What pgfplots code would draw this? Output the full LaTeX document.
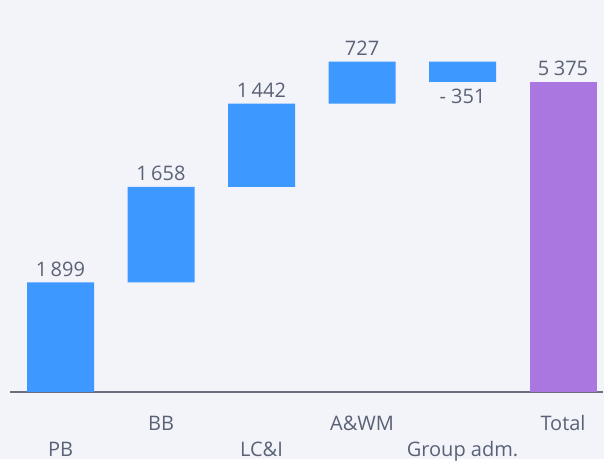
\documentclass[border=0pt]{standalone}
\usepackage{pgfplots}
\pgfplotsset{compat=1.18}
\usepackage{fontspec}
\setmainfont{Open Sans}
\definecolor{bg}{HTML}{F3F4FA}
\definecolor{barblue}{HTML}{3D98FF}
\definecolor{barpurple}{HTML}{A977DF}
\definecolor{txt}{HTML}{5A6275}
\definecolor{axiscol}{HTML}{6A6F7D}
\tikzset{lbl/.style={anchor=base, font=\fontsize{20}{23}\selectfont, text=txt, inner sep=0pt}}
\begin{document}
\begin{tikzpicture}
\fill[bg] (0,0) rectangle (604pt,459pt);
\begin{axis}[
  at={(10.25pt,67pt)}, anchor=south west,
  scale only axis, width=593pt, height=375pt,
  xmin=-0.5, xmax=5.4, ymin=0, ymax=6500,
  axis x line*=bottom, axis y line=none,
  x axis line style={-, color=axiscol, line width=1.5pt},
  xtick=\empty, ytick=\empty,
  ybar stacked, bar width=67pt,
  clip=false,
]
\addplot[draw=none, fill opacity=0] coordinates {(0,0) (1,1899) (2,3557) (3,4999) (4,5375) (5,0)};
\addplot[draw=none, fill=barblue] coordinates {(0,1899) (1,1658) (2,1442) (3,727) (4,351) (5,0)};
\addplot[draw=none, fill=barpurple] coordinates {(0,0) (1,0) (2,0) (3,0) (4,0) (5,5375)};
\node[lbl, yshift=6pt] at (axis cs:0,1899) {1\,899};
\node[lbl, yshift=6pt] at (axis cs:1,3557) {1\,658};
\node[lbl, yshift=6pt] at (axis cs:2,4999) {1\,442};
\node[lbl, yshift=6pt] at (axis cs:3,5726) {727};
\node[lbl, yshift=-22pt] at (axis cs:4,5375) {- 351};
\node[lbl, yshift=6pt] at (axis cs:5,5375) {5\hspace{0.22em}375};
\node[lbl, yshift=-64pt] at (axis cs:0,0) {PB};
\node[lbl, yshift=-38pt] at (axis cs:1,0) {BB};
\node[lbl, yshift=-64pt] at (axis cs:2,0) {LC\&I};
\node[lbl, yshift=-38pt] at (axis cs:3,0) {A\&WM};
\node[lbl, yshift=-64pt] at (axis cs:4,0) {Group adm.};
\node[lbl, yshift=-38pt] at (axis cs:5,0) {Total};
\end{axis}
\end{tikzpicture}
\end{document}
